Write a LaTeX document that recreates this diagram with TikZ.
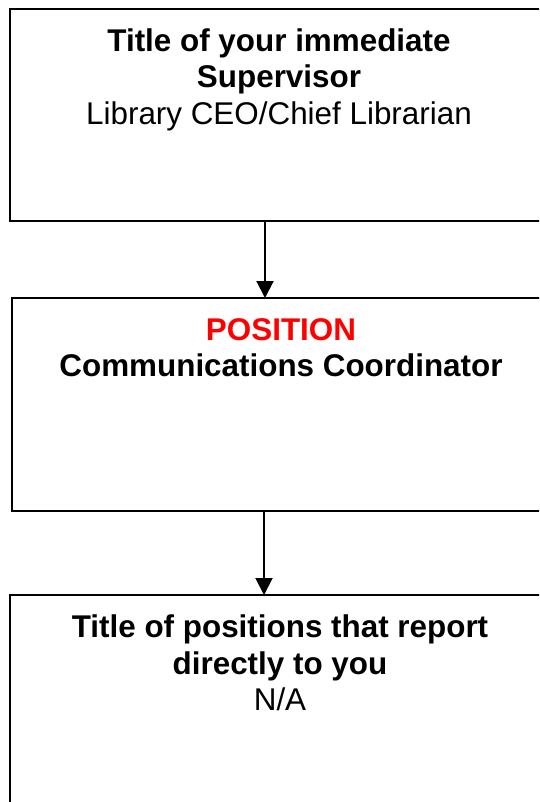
\documentclass[tikz,border=0pt]{standalone}
\usepackage{fontspec}
\setmainfont{Liberation Sans}
\usetikzlibrary{arrows.meta}
\begin{document}
\begin{tikzpicture}[x=1pt,y=-1pt,
  box/.style={draw=black,line width=2pt},
  txt/.style={align=center,anchor=north,inner sep=0pt,font=\fontsize{31.4}{36.5}\selectfont},
  conn/.style={line width=2pt,-{Triangle[width=17pt,length=17pt]}}]
\useasboundingbox (0,0) rectangle (539,802);
\begin{scope}
\clip (0,0) rectangle (539,802);
\draw[box] (10,9) rectangle (560,221);
\draw[box] (12,298) rectangle (560,511);
\draw[box] (10,595) rectangle (560,830);
\end{scope}
\coordinate (b1) at (265,221);
\coordinate (t2) at (265,298);
\coordinate (b2) at (264,511);
\coordinate (t3) at (264,595);
\node[txt] (n1) at (279,28.5) {\textbf{Title of your immediate}\\\textbf{Supervisor}\\Library CEO/Chief Librarian};
\node[txt] (n2) at (281,318) {\textcolor{red}{\textbf{POSITION}}\\\textbf{Communications Coordinator}};
\node[txt] (n3) at (280,615) {\textbf{Title of positions that report}\\\textbf{directly to you}\\N/A};
\draw[conn] (b1) -- (t2);
\draw[conn] (b2) -- (t3);
\end{tikzpicture}
\end{document}
